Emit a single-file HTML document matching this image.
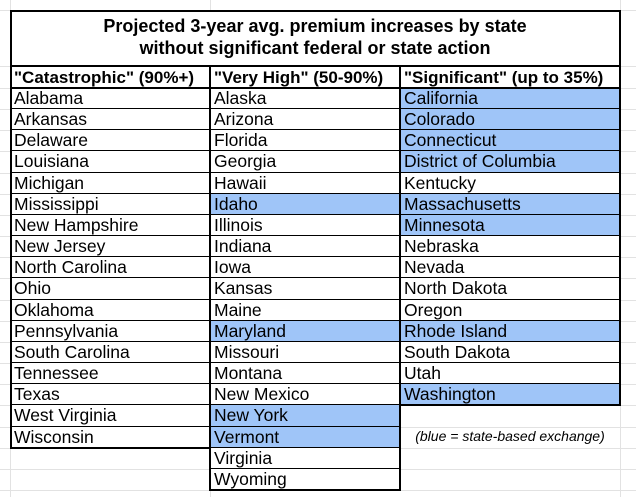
<!DOCTYPE html>
<html><head><meta charset="utf-8"><style>
html,body{margin:0;width:636px;height:497px;background:#fff;position:relative;overflow:hidden;font-family:"Liberation Sans",Arial,sans-serif;}
.g{position:absolute;background:#e2e2e2}
.c{position:absolute;font-size:17.5px;line-height:21px;padding-left:4px;box-sizing:border-box;color:#000;white-space:nowrap;}
.b{position:absolute;background:#000}
</style></head><body>
<div class="g" style="left:10px;top:0;width:1px;height:497px"></div>
<div class="g" style="left:210px;top:0;width:1px;height:497px"></div>
<div class="g" style="left:620px;top:0;width:1px;height:497px"></div>
<div class="g" style="left:0;top:10px;width:636px;height:1px"></div>
<div id="rows"></div>
<div style="position:absolute;left:10px;top:15px;width:610px;text-align:center;font-weight:bold;font-size:18px;line-height:22px">Projected 3-year avg. premium increases by state<br>without significant federal or state action</div>
<div class="c" style="left:10px;top:67px;font-weight:bold;font-size:17px">"Catastrophic" (90%+)</div>
<div class="c" style="left:210px;top:67px;font-weight:bold;font-size:17px">"Very High" (50-90%)</div>
<div class="c" style="left:400px;top:67px;font-weight:bold;font-size:17px">"Significant" (up to 35%)</div>
<div class="c" style="left:400px;top:426px;width:220px;text-align:center;font-style:italic;font-size:14px;padding:0">(blue = state-based exchange)</div>
<div id="brd"></div>
<script>
var c1=["Alabama","Arkansas","Delaware","Louisiana","Michigan","Mississippi","New Hampshire","New Jersey","North Carolina","Ohio","Oklahoma","Pennsylvania","South Carolina","Tennessee","Texas","West Virginia","Wisconsin"];
var c2=["Alaska","Arizona","Florida","Georgia","Hawaii","Idaho","Illinois","Indiana","Iowa","Kansas","Maine","Maryland","Missouri","Montana","New Mexico","New York","Vermont","Virginia","Wyoming"];
var b2=[5,11,15,16];
var c3=["California","Colorado","Connecticut","District of Columbia","Kentucky","Massachusetts","Minnesota","Nebraska","Nevada","North Dakota","Oregon","Rhode Island","South Dakota","Utah","Washington"];
var b3=[0,1,2,3,5,6,11,14];
var h="";var H=21.16;
function y(i){return Math.round(88+i*H);}
for(var i=0;i<=19;i++){h+='<div class="g" style="left:0;top:'+y(i)+'px;width:636px;height:1px"></div>';}
h+='<div class="g" style="left:0;top:66px;width:636px;height:1px"></div>';
h+='<div style="position:absolute;left:10px;top:10px;width:610px;height:56px;background:#fff"></div>';
function col(arr,blue,x,w){for(var i=0;i<arr.length;i++){var bg=blue.indexOf(i)>=0?'#9fc5f8':'#fff';h+='<div class="c" style="left:'+x+'px;top:'+y(i)+'px;width:'+w+'px;height:'+(y(i+1)-y(i))+'px;background:'+bg+';border-bottom:1px solid #000">'+arr[i]+'</div>';}}
col(c1,[],10,200);col(c2,b2,210,190);col(c3,b3,400,220);
document.getElementById('rows').innerHTML=h;
var k="";
function B(l,t,w,hh){k+='<div class="b" style="left:'+l+'px;top:'+t+'px;width:'+w+'px;height:'+hh+'px"></div>';}
B(10,10,611,2);B(10,10,2,y(17)-10+1);B(619,10,2,y(15)-10+1);
B(10,65,611,2);B(10,87,611,2);
B(209,66,2,y(19)-66+1);B(399,66,2,y(19)-66+1);
B(10,y(17)-1,201,2);B(209,y(19)-1,192,2);B(399,y(15)-1,222,2);
document.getElementById('brd').innerHTML=k;
</script>
</body></html>
